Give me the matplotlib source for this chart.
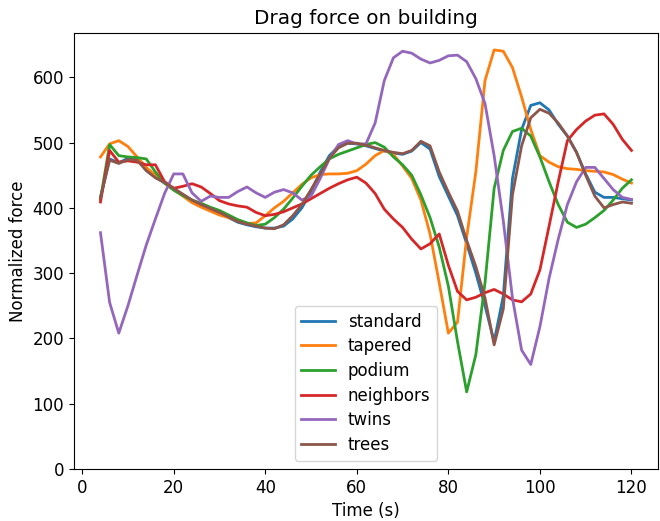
import numpy as np
import matplotlib
matplotlib.use('Agg')
from matplotlib import pyplot as plt

# time axis, every 2 s
time = np.arange(4, 121, 2)

standard = [416, 475, 469, 476, 474, 458, 447, 438, 429, 420, 411, 404, 398, 392, 385, 378,
            374, 371, 369, 369, 372, 383, 400, 425, 455, 480, 494, 499, 498, 495, 491, 487,
            484, 482, 487, 500, 490, 448, 418, 388, 345, 300, 250, 195, 265, 445, 520, 557,
            561, 550, 528, 510, 485, 452, 424, 416, 416, 414, 412]
tapered = [478, 498, 503, 494, 478, 462, 450, 438, 428, 418, 408, 401, 395, 389, 385, 380,
           376, 377, 388, 400, 410, 423, 436, 446, 451, 452, 452, 453, 457, 467, 480, 488,
           482, 464, 445, 412, 360, 285, 208, 225, 355, 455, 595, 642, 640, 615, 570, 520,
           480, 470, 463, 460, 459, 457, 456, 455, 451, 444, 438]
podium = [413, 497, 480, 478, 477, 475, 455, 438, 427, 419, 412, 407, 401, 396, 389, 382,
          377, 373, 375, 385, 398, 415, 433, 450, 463, 475, 482, 487, 492, 497, 500, 493,
          478, 466, 450, 420, 385, 340, 280, 195, 118, 175, 285, 430, 488, 517, 522, 510,
          478, 440, 405, 378, 370, 375, 385, 396, 412, 430, 443]
neighbors = [409, 488, 470, 472, 470, 466, 466, 440, 430, 433, 437, 432, 422, 411, 406, 403,
             401, 393, 388, 390, 394, 400, 406, 414, 422, 430, 437, 443, 447, 438, 422, 398,
             383, 370, 352, 337, 345, 360, 312, 272, 259, 263, 270, 275, 268, 259, 256, 268,
             305, 372, 440, 503, 520, 533, 542, 544, 528, 505, 488]
twins = [362, 255, 208, 250, 297, 343, 383, 422, 452, 452, 423, 410, 418, 416, 416, 425,
         432, 423, 416, 424, 428, 423, 412, 418, 445, 475, 497, 503, 498, 498, 530, 595,
         630, 640, 637, 628, 622, 626, 633, 634, 624, 598, 560, 480, 380, 262, 182, 160,
         218, 292, 352, 405, 440, 462, 462, 445, 428, 416, 413]
trees = [416, 473, 468, 474, 473, 457, 446, 439, 430, 421, 412, 405, 399, 393, 386, 379,
         375, 372, 369, 368, 374, 388, 405, 428, 452, 476, 492, 499, 499, 496, 492, 488,
         485, 483, 488, 502, 495, 455, 424, 395, 350, 310, 262, 190, 245, 420, 495, 538,
         551, 545, 530, 510, 485, 450, 418, 400, 405, 409, 407]

names = ['standard', 'tapered', 'podium', 'neighbors', 'twins', 'trees']
series = [standard, tapered, podium, neighbors, twins, trees]

plt.rcParams['font.size'] = 12
fig, ax = plt.subplots(figsize=(6.6, 5.21), dpi=100)
fig.subplots_adjust(left=0.112, right=0.997, top=0.937, bottom=0.1)

for name, vals in zip(names, series):
    ax.plot(time, vals, label=name, linewidth=2)

ax.set_ylim(bottom=0)
ax.set_title('Drag force on building')
ax.set_xlabel('Time (s)')
ax.set_ylabel('Normalized force')
ax.legend(loc='lower center', labelspacing=0.4)

plt.savefig('out.png')
